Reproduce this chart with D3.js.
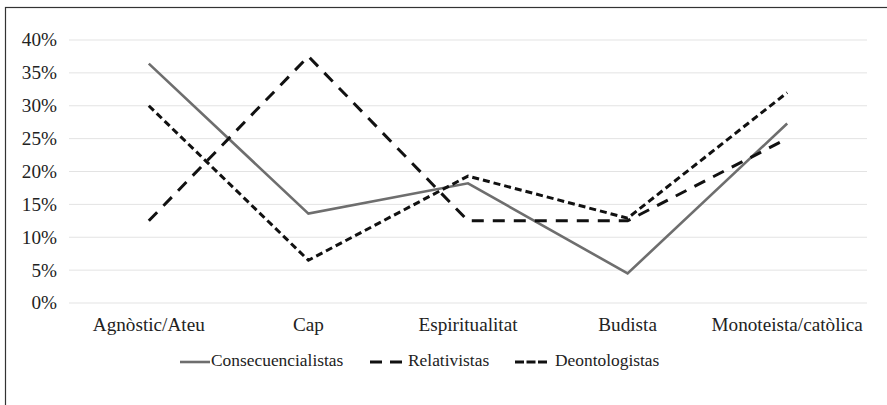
<!DOCTYPE html>
<html>
<head>
<meta charset="utf-8">
<script src="https://cdn.jsdelivr.net/npm/d3@7"></script>
<style>
  body { margin: 0; background: #fff; }
  #chart { position: relative; width: 887px; height: 405px; overflow: hidden; }
  #chart svg { position: absolute; left: 0; top: 0; }
  .lbl {
    position: absolute;
    font-family: "Liberation Serif", "Times New Roman", serif;
    color: #222;
    white-space: nowrap;
  }
</style>
</head>
<body>
<div id="chart"></div>
<script>
const categories = ["Agnòstic/Ateu", "Cap", "Espiritualitat", "Budista", "Monoteista/catòlica"];
const consecuencialistas = [36.4, 13.6, 18.2, 4.5, 27.3];
const relativistas = [12.5, 37.5, 12.5, 12.5, 25.0];
const deontologistas = [30.0, 6.5, 19.3, 12.9, 32.0];
const yTicks = [0, 5, 10, 15, 20, 25, 30, 35, 40];

const width = 887, height = 405;
const axisSize = 19.2, legendSize = 17.4;

const root = d3.select("#chart");
const svg = root.append("svg")
  .attr("width", width)
  .attr("height", height);

// text is placed as html so that the serif font is honoured; baseline -> top
const topFor = (baseline, size) => baseline - 0.8375 * size;

// outer frame
svg.append("rect")
  .attr("x", 5.5).attr("y", 7.5)
  .attr("width", 890).attr("height", 410)
  .attr("fill", "none")
  .attr("stroke", "#333")
  .attr("stroke-width", 1.2);

const x = d3.scaleBand().domain(categories).range([69, 867]);
const y = d3.scaleLinear().domain([0, 40]).range([303, 40]);

// gridlines
svg.append("g")
  .selectAll("line")
  .data(yTicks)
  .join("line")
  .attr("x1", 69).attr("x2", 867)
  .attr("y1", d => y(d)).attr("y2", d => y(d))
  .attr("stroke", "#e3e3e3")
  .attr("stroke-width", 1);

// y labels
root.selectAll("div.ylbl")
  .data(yTicks)
  .join("div")
  .attr("class", "lbl ylbl")
  .style("left", "0px")
  .style("width", "57px")
  .style("text-align", "right")
  .style("font-size", axisSize + "px")
  .style("line-height", axisSize + "px")
  .style("top", d => topFor(y(d) + 6.5, axisSize) + "px")
  .text(d => d + "%");

// x labels
root.selectAll("div.xlbl")
  .data(categories)
  .join("div")
  .attr("class", "lbl xlbl")
  .style("left", d => (x(d) + x.bandwidth() / 2 - 100) + "px")
  .style("width", "200px")
  .style("text-align", "center")
  .style("font-size", axisSize + "px")
  .style("line-height", axisSize + "px")
  .style("top", topFor(331.5, axisSize) + "px")
  .text(d => d);

const series = [
  { name: "Consecuencialistas", values: consecuencialistas, color: "#6e6e6e", width: 2.6, dash: null, key: null },
  { name: "Relativistas", values: relativistas, color: "#111", width: 3, dash: "12,9", key: "12,8" },
  { name: "Deontologistas", values: deontologistas, color: "#111", width: 3, dash: "7,4", key: "9,2.5" }
];

const line = d3.line()
  .x((d, i) => x(categories[i]) + x.bandwidth() / 2)
  .y(d => y(d));

svg.append("g")
  .selectAll("path")
  .data(series)
  .join("path")
  .attr("d", d => line(d.values))
  .attr("fill", "none")
  .attr("stroke", d => d.color)
  .attr("stroke-width", d => d.width)
  .attr("stroke-dasharray", d => d.dash);

// legend
const legendX = [180, 370, 515];
const legendTextX = [211, 408, 555];

svg.append("g")
  .selectAll("line")
  .data(series)
  .join("line")
  .attr("x1", (d, i) => legendX[i])
  .attr("x2", (d, i) => legendX[i] + (i === 0 ? 30 : 32))
  .attr("y1", 362).attr("y2", 362)
  .attr("stroke", d => d.color)
  .attr("stroke-width", d => d.width)
  .attr("stroke-dasharray", d => d.key);

root.selectAll("div.leg")
  .data(series)
  .join("div")
  .attr("class", "lbl leg")
  .style("left", (d, i) => legendTextX[i] + "px")
  .style("font-size", legendSize + "px")
  .style("line-height", legendSize + "px")
  .style("top", topFor(367, legendSize) + "px")
  .text(d => d.name);
</script>
</body>
</html>
